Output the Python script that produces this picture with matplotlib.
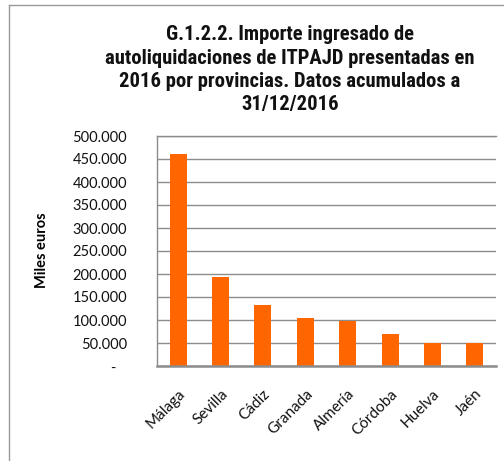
import matplotlib
matplotlib.use("Agg")
import matplotlib.pyplot as plt
from matplotlib.ticker import FixedLocator, FuncFormatter
from matplotlib.lines import Line2D
from matplotlib import font_manager

categories = ["Málaga", "Sevilla", "Cádiz", "Granada", "Almería", "Córdoba", "Huelva", "Jaén"]
values = [461000, 193000, 133500, 105000, 98000, 69000, 50000, 49500]
yticks = [0, 50000, 100000, 150000, 200000, 250000, 300000, 350000, 400000, 450000, 500000]
title_lines = ["G.1.2.2. Importe ingresado de",
               "autoliquidaciones de ITPAJD presentadas en",
               "2016 por provincias. Datos acumulados a",
               "31/12/2016"]
ylabel = "Miles euros"

W, H = 504, 461
fig = plt.figure(figsize=(W / 100, H / 100), dpi=100)
ax = fig.add_axes([157 / W, 1 - 366 / H, (496 - 157) / W, (366 - 136) / H])

x = list(range(len(categories)))
ax.bar(x, values, width=0.4, color="#FF6600", zorder=3)
ax.set_xlim(-0.5, len(categories) - 0.5)
ax.set_ylim(0, 500000)

ax.yaxis.set_major_locator(FixedLocator(yticks))
def fmt(v, pos):
    if v == 0:
        return "-   "
    return f"{int(v):,}".replace(",", ".")
ax.yaxis.set_major_formatter(FuncFormatter(fmt))
ax.grid(axis="y", color="#8c8c8c", linewidth=1.0, zorder=0)
ax.tick_params(axis="y", length=0, pad=21.5, labelsize=10.5, labelcolor="#111111")
ax.tick_params(axis="x", length=0, pad=15, labelsize=11, labelcolor="#111111")
for lbl in ax.get_yticklabels():
    lbl.set_family(["Lato", "DejaVu Sans"])
ax.set_xticks(x)
ax.set_xticklabels(categories, rotation=45, ha="right", va="top",
                   rotation_mode="anchor", family=["Lato", "DejaVu Sans"])

ax.spines["right"].set_visible(False)
for s in ["left", "top", "bottom"]:
    ax.spines[s].set_color("#8c8c8c")
ax.spines["bottom"].set_linewidth(1.8)
ax.spines["left"].set_linewidth(1.0)
ax.spines["top"].set_linewidth(1.0)
ax.spines["bottom"].set_zorder(4)

fig.text(42 / W, 1 - 250 / H, ylabel, rotation=90, ha="center", va="center",
         fontsize=10.5, fontweight="bold", family=["Lato", "DejaVu Sans"])

# choose a narrow font for the title if available
names = {f.name for f in font_manager.fontManager.ttflist}
title_family = "DejaVu Sans"
title_stretch = "normal"
for cand in ["Liberation Sans Narrow", "Roboto Condensed", "Open Sans Condensed", "DejaVu Sans Condensed"]:
    if cand in names:
        title_family = cand
        break
else:
    if any(f.name == "DejaVu Sans" and f.stretch == "condensed" for f in font_manager.fontManager.ttflist):
        title_stretch = "condensed"

renderer = fig.canvas.get_renderer()
target_w = 371.0
fs = 12.5
for _ in range(3):
    t = fig.text(0, 0, title_lines[1], fontsize=fs, fontweight="bold",
                 family=title_family, fontstretch=title_stretch)
    w = t.get_window_extent(renderer).width
    t.remove()
    fs = fs * target_w / w

baselines = [40, 64, 87, 110]
for line, yb in zip(title_lines, baselines):
    fig.text(290 / W, 1 - yb / H, line, ha="center", va="baseline", fontsize=fs,
             fontweight="bold", family=title_family, fontstretch=title_stretch,
             color="#111111")

fig.add_artist(Line2D([8.5 / W, 8.5 / W], [0, 1 - 5.5 / H], transform=fig.transFigure,
                      color="#9a9a9a", linewidth=1.0))
fig.add_artist(Line2D([8.5 / W, 1], [1 - 5.5 / H, 1 - 5.5 / H], transform=fig.transFigure,
                      color="#9a9a9a", linewidth=1.0))

fig.savefig("out.png", dpi=100)
